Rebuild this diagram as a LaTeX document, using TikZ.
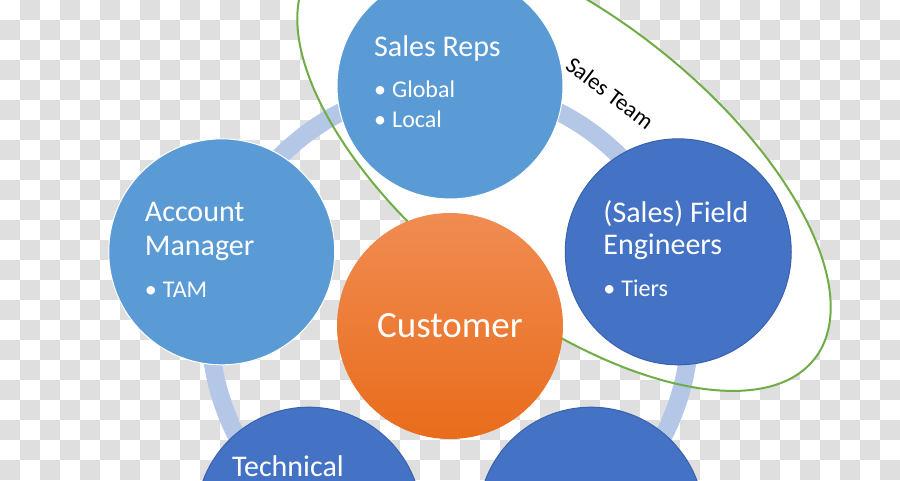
\documentclass[tikz,border=0pt]{standalone}
\usepackage{fontspec}
\setmainfont{Carlito}
\definecolor{repsblue}{HTML}{5B9BD5}
\definecolor{fieldblue}{HTML}{4472C4}
\definecolor{fieldedge}{HTML}{3A62AC}
\definecolor{ringblue}{HTML}{B4C7E7}
\definecolor{teamgreen}{HTML}{70AD47}
\definecolor{custtop}{HTML}{F08C52}
\definecolor{custbot}{HTML}{E96C1B}
\definecolor{tilegray}{HTML}{DFDFDF}
\tikzset{disc/.style={circle,inner sep=0pt,minimum size=226pt,line width=1pt},
  lightdisc/.style={disc,fill=repsblue,draw=white},
  darkdisc/.style={disc,fill=fieldblue,draw=fieldedge},
  hub/.style={disc,top color=custtop,bottom color=custbot,text=white,font=\fontsize{37}{40}\selectfont},
  ring/.style={ringblue,line width=18pt},
  teamoval/.style={x radius=318,y radius=148,rotate=-38},
  teamline/.style={teamgreen,line width=2pt},
  tile/.style={fill=tilegray},
  title/.style={anchor=base west,inner sep=0pt,text=white,font=\fontsize{30}{34}\selectfont},
  item/.style={title,font=\fontsize{24}{28}\selectfont}}
\newcommand{\bul}[1]{\rlap{•}\hspace{18pt}#1}

\begin{document}
\begin{tikzpicture}[x=1pt,y=1pt]
\useasboundingbox (-450,-154) rectangle (450,326);
\fill[white] (-450,-154) rectangle (450,326);
% checkerboard
\begin{scope}
\clip (-450,-154) rectangle (450,326);
\foreach \k in {0,...,22}{\foreach \j in {0,...,23}{
  \path[tile] ({-450+40*\k+20*mod(\j+1,2)},{326-20*\j}) rectangle +(20,-20);}}
\end{scope}
\clip (-450,-154) rectangle (450,326);
% sales team oval, ring behind the circles
\fill[white] (114,163) ellipse [teamoval];
\draw[ring] (0,0) circle (240);
\draw[teamline] (114,163) ellipse [teamoval];
\node[rotate=-37,font=\fontsize{23}{25}\selectfont] (team) at (160,233) {Sales Team};
% circles
\node[lightdisc] (reps) at (90:240) {};
\node[lightdisc] (acct) at (162:240) {};
\node[darkdisc] (field) at (18:240) {};
\node[darkdisc] (tech) at (234:240) {};
\node[darkdisc] (lower) at (306:240) {};
\node[hub] (cust) at (0,0) {Customer};
% texts
\node[title] (repsA) at ([shift={(-76,29)}]reps.center) {Sales Reps};
\node[item] (repsB) at ([yshift=-41]repsA.base west) {\bul{Global}};
\node[item] (repsC) at ([yshift=-30]repsB.base west) {\bul{Local}};
\node[title] (acctA) at ([shift={(-77,30)}]acct.center) {Account};
\node[title] (acctB) at ([yshift=-34]acctA.base west) {Manager};
\node[item] (acctC) at ([yshift=-42]acctB.base west) {\bul{TAM}};
\node[title] (fieldA) at ([shift={(-75,29)}]field.center) {(Sales) Field};
\node[title] (fieldB) at ([yshift=-32]fieldA.base west) {Engineers};
\node[item] (fieldC) at ([yshift=-42]fieldB.base west) {\bul{Tiers}};
\node[title] (techA) at ([shift={(-77,44)}]tech.center) {Technical};
\end{tikzpicture}
\end{document}
